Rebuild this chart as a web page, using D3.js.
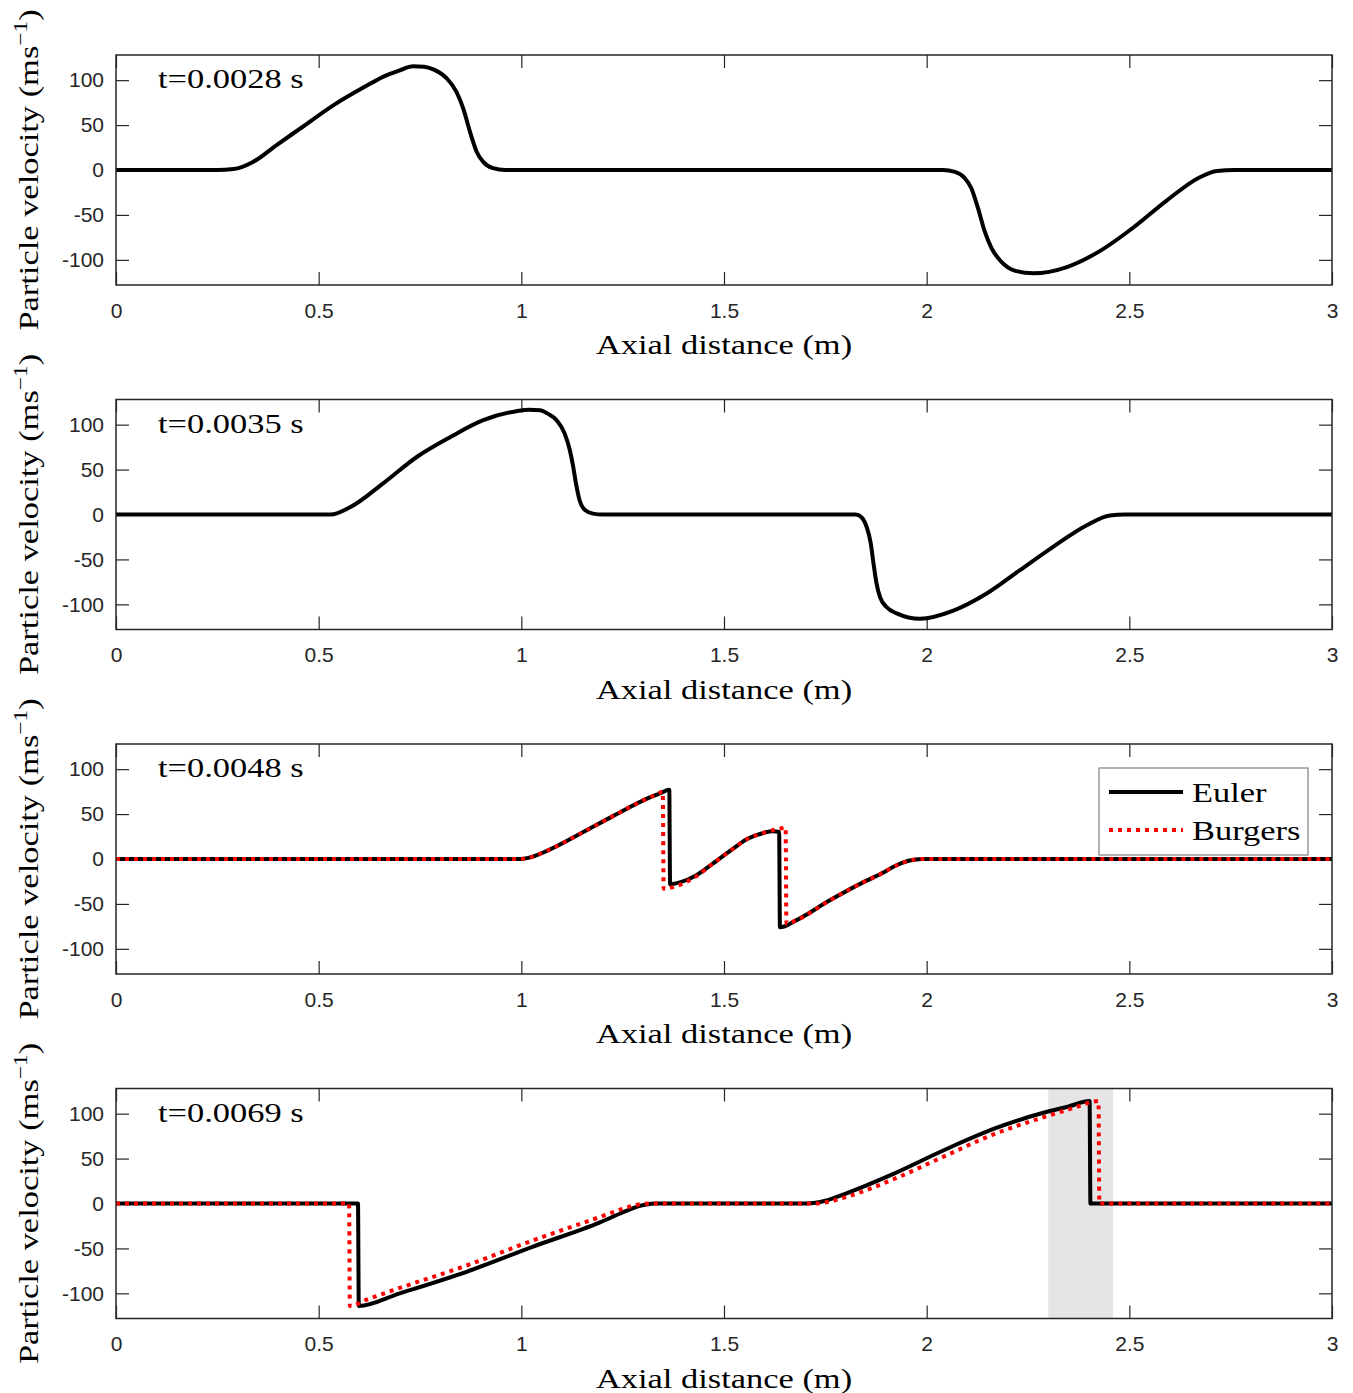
<!DOCTYPE html>
<html>
<head>
<meta charset="utf-8">
<script src="https://cdn.jsdelivr.net/npm/d3@7"></script>
<style>
  body { margin: 0; background: #fff; }
  svg { display: block; }
</style>
</head>
<body>
<div id="chart"></div>
<script>
// tick values / labels
var xTicks = [0, 0.5, 1, 1.5, 2, 2.5, 3];
var xTickLabels = ["0", "0.5", "1", "1.5", "2", "2.5", "3"];
var yTicks = [-100, -50, 0, 50, 100];
var yTickLabels = ["-100", "-50", "0", "50", "100"];

var times = ["t=0.0028 s", "t=0.0035 s", "t=0.0048 s", "t=0.0069 s"];
var seriesNames = ["Euler", "Burgers"];

// panel 1 (Euler only)
var p1x = [0, 0.25, 0.29, 0.338, 0.397, 0.454, 0.536, 0.619, 0.66, 0.70, 0.733, 0.76, 0.783, 0.816, 0.84, 0.857, 0.873, 0.89, 0.906, 0.93, 0.96, 1.0,
           2.04, 2.07, 2.094, 2.11, 2.127, 2.143, 2.16, 2.184, 2.217, 2.263, 2.346, 2.428, 2.51, 2.592, 2.674, 2.716, 2.76, 3];
var p1v = [0, 0, 1, 9, 28, 46, 72, 94, 104, 111, 115.5, 115, 112, 102, 87, 68, 43, 20, 9, 2, 0, 0,
           0, -2, -9, -20, -43, -68, -87, -102, -112, -115, -108, -90, -64, -34, -8, -1, 0, 0];

// panel 2 (Euler only)
var p2x = [0, 0.5, 0.53, 0.577, 0.66, 0.742, 0.824, 0.906, 0.988, 1.02, 1.046, 1.066, 1.087, 1.107, 1.12, 1.128, 1.135, 1.143, 1.157, 1.177, 1.2,
           1.8, 1.825, 1.839, 1.852, 1.862, 1.869, 1.876, 1.885, 1.901, 1.926, 1.984, 2.066, 2.148, 2.23, 2.312, 2.395, 2.452, 2.49, 3];
var p2v = [0, 0, 0, 8, 35, 64, 86, 105, 115, 116.5, 116, 112, 105, 90, 71, 53, 34, 17, 5, 1, 0,
           0, 0, -3, -14, -32, -55, -76, -92, -103, -110, -116, -107, -88, -62, -36, -12, -1, 0, 0];

// panel 3
var p3ex = [0, 0.997, 1.03, 1.063, 1.145, 1.227, 1.309, 1.342, 1.365, 1.367, 1.391, 1.432, 1.473, 1.515, 1.556, 1.597, 1.62, 1.636, 1.638,
            1.679, 1.761, 1.843, 1.885, 1.926, 1.955, 1.99, 3];
var p3ev = [0, 0, 3, 9, 28, 48, 67, 73, 77, -28, -26, -18, -5, 9, 22, 29, 31, 30, -76,
            -68, -46, -26, -17, -7, -2, 0, 0];
var p3bx = [0, 0.997, 1.03, 1.063, 1.145, 1.227, 1.309, 1.335, 1.349, 1.351, 1.383, 1.432, 1.473, 1.515, 1.556, 1.597, 1.62, 1.64, 1.652, 1.654,
            1.679, 1.761, 1.843, 1.885, 1.926, 1.955, 1.99, 3];
var p3bv = [0, 0, 3, 9, 28, 48, 67, 72, 75, -33, -30, -19, -5, 9, 22, 29, 32, 34, 35, -72,
            -68, -46, -26, -17, -7, -2, 0, 0];

// panel 4
var p4ex = [0, 0.597, 0.599, 0.70, 0.865, 1.029, 1.194, 1.25, 1.29, 1.33,
            1.704, 1.75, 1.794, 1.918, 2.041, 2.165, 2.288, 2.35, 2.402, 2.404, 3];
var p4ev = [0, 0, -114, -100, -76, -48, -21, -10, -3, 0,
            0, 3, 10, 33, 59, 83, 101, 108, 114, 0, 0];
var p4bx = [0, 0.575, 0.577, 0.618, 0.70, 0.865, 1.029, 1.194, 1.25, 1.29, 1.32,
            1.72, 1.76, 1.80, 1.918, 2.041, 2.165, 2.288, 2.36, 2.424, 2.426, 3];
var p4bv = [0, 0, -114, -107, -94, -69, -41, -15, -6, -1, 0,
            0, 2, 7, 27, 52, 77, 96, 106, 114, 0, 0];

var band4 = [2.30, 2.46];

var panels = [
  {time: times[0], euler: [p1x, p1v]},
  {time: times[1], euler: [p2x, p2v]},
  {time: times[2], euler: [p3ex, p3ev], burgers: [p3bx, p3bv], legend: true},
  {time: times[3], euler: [p4ex, p4ev], burgers: [p4bx, p4bv], band: band4}
];

var svgWidth = 1353, svgHeight = 1393;
var left = 116, plotW = 1216, plotH = 230;
var tops = [55, 399.5, 744, 1088.5];
var axisColor = "#262626";
var serif = "'Liberation Serif', 'Times New Roman', serif";
var sx = 1.23; // widen serif glyphs toward computer modern proportions

var svg = d3.select("#chart").append("svg")
  .attr("width", svgWidth)
  .attr("height", svgHeight);

var x = d3.scaleLinear().domain([0, 3]).range([0, plotW]);
var y = d3.scaleLinear().domain([-128, 128]).range([plotH, 0]);

var line = d3.line()
  .x(function(d) { return x(d[0]); })
  .y(function(d) { return y(d[1]); })
  .curve(d3.curveMonotoneX);

function pts(s) {
  return s[0].map(function(v, i) { return [v, s[1][i]]; });
}

function serifText(g, tx, ty, anchor, rot) {
  var t = g.append("g")
    .attr("transform", "translate(" + tx + "," + ty + ")" + (rot ? " rotate(-90)" : "") + " scale(" + sx + ",1)")
    .append("text")
    .attr("text-anchor", anchor)
    .attr("font-family", serif)
    .attr("font-size", 28)
    .attr("fill", "#000");
  return t;
}

panels.forEach(function(p, i) {
  var g = svg.append("g").attr("transform", "translate(" + left + "," + tops[i] + ")");

  if (p.band) {
    g.append("rect")
      .attr("x", x(p.band[0]))
      .attr("width", x(p.band[1]) - x(p.band[0]))
      .attr("y", 0)
      .attr("height", plotH)
      .attr("fill", "#e5e5e5");
  }

  // axes, ticks inward
  var bottom = d3.axisBottom(x).tickValues(xTicks)
    .tickFormat(function(d, k) { return xTickLabels[k]; })
    .tickSizeInner(-13).tickSizeOuter(0).tickPadding(18);
  var top = d3.axisTop(x).tickValues(xTicks).tickFormat("")
    .tickSizeInner(-13).tickSizeOuter(0);
  var leftAx = d3.axisLeft(y).tickValues(yTicks)
    .tickFormat(function(d, k) { return yTickLabels[k]; })
    .tickSizeInner(-13).tickSizeOuter(0).tickPadding(12);
  var rightAx = d3.axisRight(y).tickValues(yTicks).tickFormat("")
    .tickSizeInner(-13).tickSizeOuter(0);

  var axes = [
    g.append("g").attr("transform", "translate(0," + plotH + ")").call(bottom),
    g.append("g").call(top),
    g.append("g").call(leftAx),
    g.append("g").attr("transform", "translate(" + plotW + ",0)").call(rightAx)
  ];
  axes.forEach(function(a) {
    a.select(".domain").remove();
    a.selectAll("line").attr("stroke", axisColor).attr("stroke-width", 1.2);
    a.selectAll("text")
      .attr("fill", axisColor)
      .attr("font-family", "'Liberation Sans', Arial, sans-serif")
      .attr("font-size", 21);
  });

  // lines
  g.append("path")
    .datum(pts(p.euler))
    .attr("d", line)
    .attr("fill", "none")
    .attr("stroke", "#000")
    .attr("stroke-width", 4)
    .attr("stroke-linejoin", "round");

  if (p.burgers) {
    g.append("path")
      .datum(pts(p.burgers))
      .attr("d", line)
      .attr("fill", "none")
      .attr("stroke", "#ff0000")
      .attr("stroke-width", 4)
      .attr("stroke-dasharray", "4 5");
  }

  // frame
  g.append("rect")
    .attr("width", plotW).attr("height", plotH)
    .attr("fill", "none")
    .attr("stroke", axisColor)
    .attr("stroke-width", 1.5);

  // time stamp
  serifText(g, 42, 33, "start", false).text(p.time);

  // x label
  serifText(g, plotW / 2, plotH + 69, "middle", false).text("Axial distance (m)");

  // y label
  var yl = serifText(g, 38 - left, plotH / 2, "middle", true);
  yl.append("tspan").text("Particle velocity (ms");
  yl.append("tspan").attr("font-size", 19).attr("dy", -11).text("\u22121");
  yl.append("tspan").attr("dy", 11).text(")");

  if (p.legend) {
    var lg = g.append("g").attr("transform", "translate(" + (1099 - left) + ",24)");
    lg.append("rect")
      .attr("width", 209).attr("height", 87)
      .attr("fill", "#fff")
      .attr("stroke", "#7f7f7f")
      .attr("stroke-width", 1.2);
    lg.append("line")
      .attr("x1", 10).attr("x2", 84).attr("y1", 24).attr("y2", 24)
      .attr("stroke", "#000").attr("stroke-width", 4);
    lg.append("line")
      .attr("x1", 10).attr("x2", 84).attr("y1", 62).attr("y2", 62)
      .attr("stroke", "#ff0000").attr("stroke-width", 4)
      .attr("stroke-dasharray", "4 5");
    serifText(lg, 93, 34, "start", false).text(seriesNames[0]);
    serifText(lg, 93, 72, "start", false).text(seriesNames[1]);
  }
});
</script>
</body>
</html>
